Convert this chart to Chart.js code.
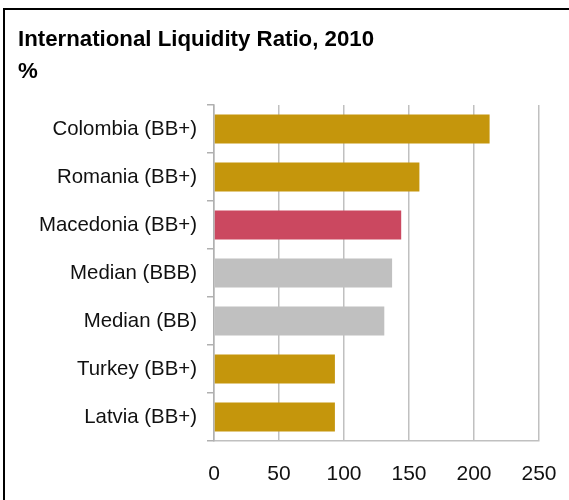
<!DOCTYPE html>
<html>
<head>
<meta charset="utf-8">
<script src="https://cdn.jsdelivr.net/npm/chart.js@4"></script>
<style>
  html, body { margin: 0; padding: 0; background: #fff; overflow: hidden; }
  #wrap { position: relative; width: 569px; height: 500px; }
  #frame {
    position: absolute; left: 3px; top: 8px; width: 600px; height: 600px;
    border-left: 2px solid #000; border-top: 2px solid #000; pointer-events: none;
  }
</style>
</head>
<body>
<div id="wrap">
  <canvas id="liquidity-chart" width="569" height="500"></canvas>
  <div id="frame"></div>
</div>
<script>
const categories = ['Colombia (BB+)', 'Romania (BB+)', 'Macedonia (BB+)', 'Median (BBB)', 'Median (BB)', 'Turkey (BB+)', 'Latvia (BB+)'];
const ratioValues = [212, 158, 144, 137, 131, 93, 93];
const barColors = ['#C5960C', '#C5960C', '#CB4860', '#C0C0C0', '#C0C0C0', '#C5960C', '#C5960C'];
const xTicks = [0, 50, 100, 150, 200, 250];

document.addEventListener('DOMContentLoaded', () => {
    const ctx = document.getElementById('liquidity-chart').getContext('2d');

    new Chart(ctx, {
        type: 'bar',
        data: {
            labels: categories,
            datasets: [{
                data: ratioValues,
                backgroundColor: barColors,
                borderWidth: 0,
                categoryPercentage: 1,
                barPercentage: 0.6
            }]
        },
        options: {
            indexAxis: 'y',
            responsive: false,
            animation: false,
            layout: {
                padding: { left: 18, right: 30, top: 0, bottom: 0 }
            },
            scales: {
                x: {
                    min: 0,
                    max: 250,
                    afterBuildTicks: scale => {
                        scale.ticks = xTicks.map(v => ({ value: v }));
                    },
                    afterFit: scale => {
                        scale.height = 59;
                        scale.paddingLeft = 0;
                        scale.paddingRight = 0;
                    },
                    grid: {
                        color: '#c0c0c0',
                        lineWidth: 1.5,
                        drawTicks: false
                    },
                    border: { color: '#c0c0c0', width: 1.5 },
                    ticks: {
                        padding: 21,
                        maxRotation: 0,
                        color: '#111',
                        font: { family: 'Liberation Sans, Arial, sans-serif', size: 21 }
                    }
                },
                y: {
                    afterFit: scale => { scale.width = 196; },
                    grid: {
                        drawOnChartArea: false,
                        color: '#b0b0b0',
                        lineWidth: 1.5,
                        tickLength: 7
                    },
                    border: { color: '#b0b0b0', width: 1.5 },
                    ticks: {
                        padding: 10,
                        color: '#111',
                        font: { family: 'Liberation Sans, Arial, sans-serif', size: 20.4 }
                    }
                }
            },
            plugins: {
                legend: { display: false },
                tooltip: { enabled: false },
                title: {
                    display: true,
                    text: ['International Liquidity Ratio, 2010', '%'],
                    align: 'start',
                    color: '#000',
                    padding: { top: 24, bottom: 17 },
                    font: { family: 'Liberation Sans, Arial, sans-serif', size: 22.25, weight: 'bold', lineHeight: '32px' }
                }
            }
        }
    });
});
</script>
</body>
</html>
